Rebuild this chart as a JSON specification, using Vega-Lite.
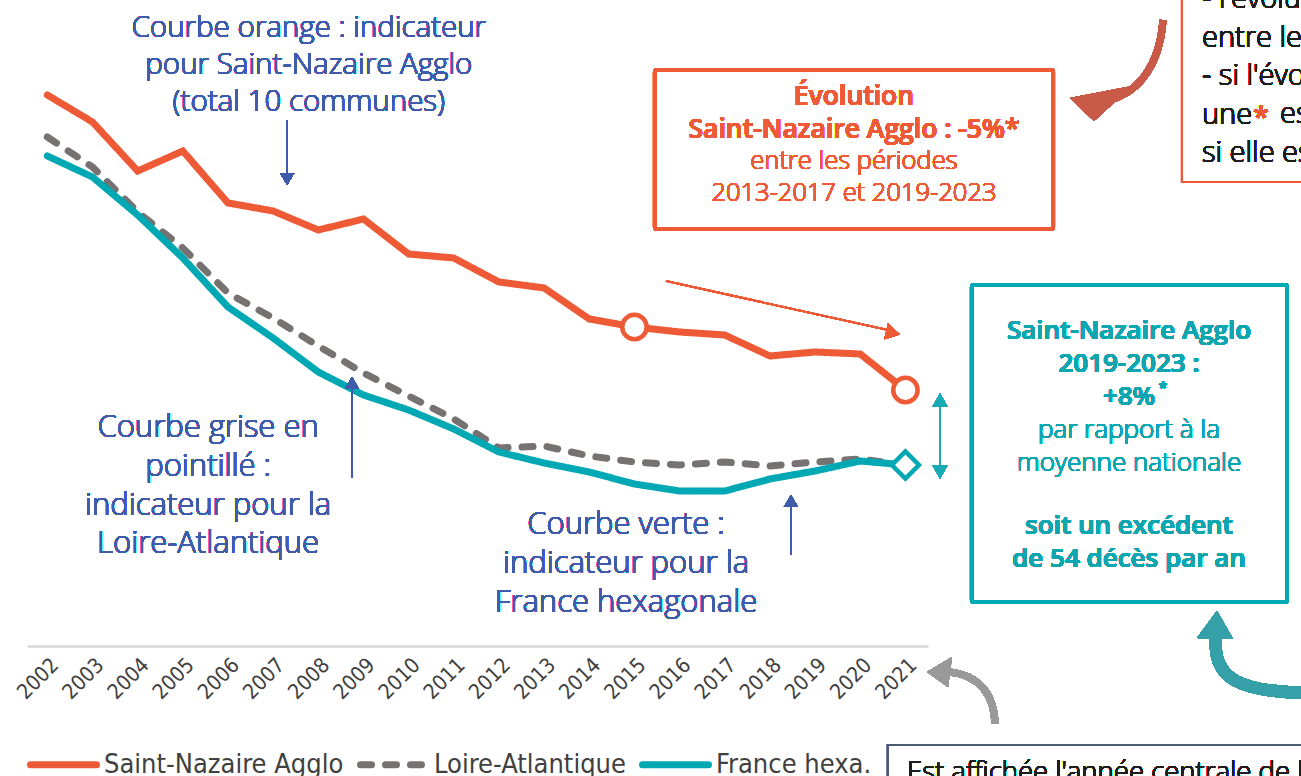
{
  "$schema": "https://vega.github.io/schema/vega-lite/v6.json",
  "width": 901,
  "height": 646,
  "autosize": {"type": "none"},
  "padding": {"left": 27, "top": 0, "right": 373, "bottom": 130},
  "background": "white",
  "config": {"view": {"stroke": null}, "axisY": {"disable": true}},
  "data": {"values": [
    {"year": 2002, "series": "Saint-Nazaire Agglo", "value": 551},
    {"year": 2003, "series": "Saint-Nazaire Agglo", "value": 524},
    {"year": 2004, "series": "Saint-Nazaire Agglo", "value": 475},
    {"year": 2005, "series": "Saint-Nazaire Agglo", "value": 495},
    {"year": 2006, "series": "Saint-Nazaire Agglo", "value": 443},
    {"year": 2007, "series": "Saint-Nazaire Agglo", "value": 435},
    {"year": 2008, "series": "Saint-Nazaire Agglo", "value": 416},
    {"year": 2009, "series": "Saint-Nazaire Agglo", "value": 427},
    {"year": 2010, "series": "Saint-Nazaire Agglo", "value": 392},
    {"year": 2011, "series": "Saint-Nazaire Agglo", "value": 388},
    {"year": 2012, "series": "Saint-Nazaire Agglo", "value": 364},
    {"year": 2013, "series": "Saint-Nazaire Agglo", "value": 358},
    {"year": 2014, "series": "Saint-Nazaire Agglo", "value": 327},
    {"year": 2015, "series": "Saint-Nazaire Agglo", "value": 319},
    {"year": 2016, "series": "Saint-Nazaire Agglo", "value": 314},
    {"year": 2017, "series": "Saint-Nazaire Agglo", "value": 311},
    {"year": 2018, "series": "Saint-Nazaire Agglo", "value": 290},
    {"year": 2019, "series": "Saint-Nazaire Agglo", "value": 294},
    {"year": 2020, "series": "Saint-Nazaire Agglo", "value": 292},
    {"year": 2021, "series": "Saint-Nazaire Agglo", "value": 256},
    {"year": 2002, "series": "Loire-Atlantique", "value": 509},
    {"year": 2003, "series": "Loire-Atlantique", "value": 479},
    {"year": 2004, "series": "Loire-Atlantique", "value": 434},
    {"year": 2005, "series": "Loire-Atlantique", "value": 398},
    {"year": 2006, "series": "Loire-Atlantique", "value": 353},
    {"year": 2007, "series": "Loire-Atlantique", "value": 328},
    {"year": 2008, "series": "Loire-Atlantique", "value": 300},
    {"year": 2009, "series": "Loire-Atlantique", "value": 273},
    {"year": 2010, "series": "Loire-Atlantique", "value": 250},
    {"year": 2011, "series": "Loire-Atlantique", "value": 227},
    {"year": 2012, "series": "Loire-Atlantique", "value": 198},
    {"year": 2013, "series": "Loire-Atlantique", "value": 200},
    {"year": 2014, "series": "Loire-Atlantique", "value": 190},
    {"year": 2015, "series": "Loire-Atlantique", "value": 184},
    {"year": 2016, "series": "Loire-Atlantique", "value": 181},
    {"year": 2017, "series": "Loire-Atlantique", "value": 184},
    {"year": 2018, "series": "Loire-Atlantique", "value": 180},
    {"year": 2019, "series": "Loire-Atlantique", "value": 184},
    {"year": 2020, "series": "Loire-Atlantique", "value": 187},
    {"year": 2021, "series": "Loire-Atlantique", "value": 181},
    {"year": 2002, "series": "France hexa.", "value": 490},
    {"year": 2003, "series": "France hexa.", "value": 469},
    {"year": 2004, "series": "France hexa.", "value": 431},
    {"year": 2005, "series": "France hexa.", "value": 388},
    {"year": 2006, "series": "France hexa.", "value": 339},
    {"year": 2007, "series": "France hexa.", "value": 308},
    {"year": 2008, "series": "France hexa.", "value": 274},
    {"year": 2009, "series": "France hexa.", "value": 251},
    {"year": 2010, "series": "France hexa.", "value": 236},
    {"year": 2011, "series": "France hexa.", "value": 217},
    {"year": 2012, "series": "France hexa.", "value": 194},
    {"year": 2013, "series": "France hexa.", "value": 183},
    {"year": 2014, "series": "France hexa.", "value": 174},
    {"year": 2015, "series": "France hexa.", "value": 162},
    {"year": 2016, "series": "France hexa.", "value": 155},
    {"year": 2017, "series": "France hexa.", "value": 155},
    {"year": 2018, "series": "France hexa.", "value": 167},
    {"year": 2019, "series": "France hexa.", "value": 175},
    {"year": 2020, "series": "France hexa.", "value": 185},
    {"year": 2021, "series": "France hexa.", "value": 181}
  ]},
  "layer": [
    {
      "mark": {"type": "line", "strokeWidth": 7, "strokeCap": "round", "strokeJoin": "miter"},
      "encoding": {
        "x": {"field": "year", "type": "quantitative",
          "scale": {"domain": [2001.55, 2021.5], "nice": false, "zero": false},
          "axis": {"title": null, "values": [2002,2003,2004,2005,2006,2007,2008,2009,2010,2011,2012,2013,2014,2015,2016,2017,2018,2019,2020,2021],
            "format": "d", "labelAngle": -45, "labelFont": "Liberation Sans Narrow, DejaVu Sans Condensed, sans-serif",
            "labelFontSize": 21, "labelColor": "#404040", "labelPadding": 8, "ticks": false, "grid": false,
            "domainColor": "#d9d9d9", "domainWidth": 2.5, "labelOverlap": false, "labelBound": false, "labelFlush": false}},
        "y": {"field": "value", "type": "quantitative",
          "scale": {"domain": [0, 646], "nice": false, "zero": false}, "axis": null},
        "color": {"field": "series", "type": "nominal",
          "scale": {"domain": ["Saint-Nazaire Agglo", "Loire-Atlantique", "France hexa."], "range": ["#EE5A36", "#777272", "#00A8B4"]},
          "legend": {"orient": "none", "legendX": 0, "legendY": 728, "direction": "horizontal", "title": null,
            "symbolType": "stroke", "symbolSize": 4356, "symbolStrokeWidth": 7,
            "labelFont": "Liberation Sans Narrow, DejaVu Sans Condensed, sans-serif", "labelFontSize": 27,
            "labelColor": "#404040", "labelOffset": 4, "columnPadding": 2, "labelLimit": 400,
            "encode": {"symbols": {"update": {"strokeCap": {"value": "round"}}}}}},
        "strokeDash": {"field": "series", "type": "nominal",
          "scale": {"domain": ["Saint-Nazaire Agglo", "Loire-Atlantique", "France hexa."], "range": [[1, 0], [11, 14], [1, 0]]}}
      }
    },
    {
      "transform": [{"filter": "datum.series === 'Saint-Nazaire Agglo' && (datum.year === 2015 || datum.year === 2021)"}],
      "mark": {"type": "point", "shape": "circle", "size": 594, "filled": true, "fill": "#ffffff", "stroke": "#EE5A36", "strokeWidth": 4.5, "opacity": 1},
      "encoding": {"x": {"field": "year", "type": "quantitative"}, "y": {"field": "value", "type": "quantitative"}}
    },
    {
      "transform": [{"filter": "datum.series === 'France hexa.' && datum.year === 2021"}],
      "mark": {"type": "point", "shape": "diamond", "size": 730, "filled": true, "fill": "#ffffff", "stroke": "#00A8B4", "strokeWidth": 4.5, "opacity": 1},
      "encoding": {"x": {"field": "year", "type": "quantitative"}, "y": {"field": "value", "type": "quantitative"}}
    },
    {
      "mark": {"type": "text", "text": ["Courbe orange : indicateur", "pour Saint-Nazaire Agglo", "(total 10 communes)"], "font": "Open Sans", "fontWeight": 300, "fontSize": 29.5, "lineHeight": 37, "fill": "#3F5BA9", "strokeWidth": 0, "align": "center", "baseline": "middle"},
      "encoding": {"x": {"datum": 2007.79}, "y": {"datum": 618}}
    },
    {
      "mark": {"type": "rule", "color": "#3F5BA9", "strokeWidth": 1.5},
      "encoding": {"x": {"datum": 2007.31}, "y": {"datum": 526}, "y2": {"datum": 472}}
    },
    {
      "mark": {"type": "point", "shape": "triangle-down", "filled": true, "color": "#3F5BA9", "size": 200, "opacity": 1},
      "encoding": {"x": {"datum": 2007.31}, "y": {"datum": 467}}
    },
    {
      "mark": {"type": "text", "text": ["Courbe grise en", "pointillé :", "indicateur pour la", "Loire-Atlantique"], "font": "Open Sans", "fontWeight": 300, "fontSize": 31, "lineHeight": 38.8, "fill": "#3F5BA9", "strokeWidth": 0, "align": "center", "baseline": "middle"},
      "encoding": {"x": {"datum": 2005.56}, "y": {"datum": 218}}
    },
    {
      "mark": {"type": "rule", "color": "#3F5BA9", "strokeWidth": 1.5},
      "encoding": {"x": {"datum": 2008.746}, "y": {"datum": 168}, "y2": {"datum": 258}}
    },
    {
      "mark": {"type": "point", "shape": "triangle-up", "filled": true, "color": "#3F5BA9", "size": 200, "opacity": 1},
      "encoding": {"x": {"datum": 2008.746}, "y": {"datum": 263}}
    },
    {
      "mark": {"type": "text", "text": ["Courbe verte :", "indicateur pour la", "France hexagonale"], "font": "Open Sans", "fontWeight": 300, "fontSize": 31, "lineHeight": 38.8, "fill": "#3F5BA9", "strokeWidth": 0, "align": "center", "baseline": "middle"},
      "encoding": {"x": {"datum": 2014.813}, "y": {"datum": 121}}
    },
    {
      "mark": {"type": "rule", "color": "#3F5BA9", "strokeWidth": 1.5},
      "encoding": {"x": {"datum": 2018.466}, "y": {"datum": 91}, "y2": {"datum": 140}}
    },
    {
      "mark": {"type": "point", "shape": "triangle-up", "filled": true, "color": "#3F5BA9", "size": 200, "opacity": 1},
      "encoding": {"x": {"datum": 2018.466}, "y": {"datum": 145}}
    },
    {
      "mark": {"type": "rect", "fill": "#ffffff", "stroke": "#EE5A36", "strokeWidth": 4, "cornerRadius": 2},
      "encoding": {"x": {"datum": 2015.455}, "x2": {"datum": 2024.268}, "y": {"datum": 576}, "y2": {"datum": 417}}
    },
    {
      "mark": {"type": "text", "text": ["Évolution", "Saint-Nazaire Agglo : -5%*"], "font": "Open Sans", "fontWeight": 600, "fontSize": 26.5, "lineHeight": 33.2, "fill": "#EE5A36", "strokeWidth": 0, "align": "center", "baseline": "middle"},
      "encoding": {"x": {"datum": 2019.861}, "y": {"datum": 549}}
    },
    {
      "mark": {"type": "text", "text": ["entre les périodes", "2013-2017 et 2019-2023"], "font": "Open Sans", "fontWeight": 300, "fontSize": 25.5, "lineHeight": 32, "fill": "#EE5A36", "strokeWidth": 0, "align": "center", "baseline": "middle"},
      "encoding": {"x": {"datum": 2019.861}, "y": {"datum": 485}}
    },
    {
      "mark": {"type": "rule", "color": "#EE5A36", "strokeWidth": 1.5},
      "encoding": {"x": {"datum": 2015.699}, "y": {"datum": 365}, "x2": {"datum": 2020.614}, "y2": {"datum": 316}}
    },
    {
      "mark": {"type": "point", "shape": "triangle-right", "angle": 13, "filled": true, "color": "#EE5A36", "size": 260, "opacity": 1},
      "encoding": {"x": {"datum": 2020.725}, "y": {"datum": 313}}
    },
    {
      "mark": {"type": "rule", "color": "#19AAB5", "strokeWidth": 1.5},
      "encoding": {"x": {"datum": 2021.766}, "y": {"datum": 244}, "y2": {"datum": 176}}
    },
    {
      "mark": {"type": "point", "shape": "triangle-up", "filled": true, "color": "#19AAB5", "size": 220, "opacity": 1},
      "encoding": {"x": {"datum": 2021.766}, "y": {"datum": 246}}
    },
    {
      "mark": {"type": "point", "shape": "triangle-down", "filled": true, "color": "#19AAB5", "size": 220, "opacity": 1},
      "encoding": {"x": {"datum": 2021.766}, "y": {"datum": 174}}
    },
    {
      "mark": {"type": "rect", "fill": "#ffffff", "stroke": "#03A9B3", "strokeWidth": 4, "cornerRadius": 2},
      "encoding": {"x": {"datum": 2022.474}, "x2": {"datum": 2029.449}, "y": {"datum": 361}, "y2": {"datum": 44}}
    },
    {
      "mark": {"type": "text", "text": ["Saint-Nazaire Agglo", "2019-2023 :", "+8%"], "font": "Open Sans", "fontWeight": 600, "fontSize": 26, "lineHeight": 33, "fill": "#0FA6B0", "strokeWidth": 0, "align": "center", "baseline": "middle"},
      "encoding": {"x": {"datum": 2025.95}, "y": {"datum": 315}}
    },
    {
      "mark": {"type": "text", "text": "*", "font": "Open Sans", "fontWeight": 600, "fontSize": 16, "fill": "#0FA6B0", "strokeWidth": 0, "align": "center", "baseline": "middle"},
      "encoding": {"x": {"datum": 2026.7}, "y": {"datum": 258}}
    },
    {
      "mark": {"type": "text", "text": ["par rapport à la", "moyenne nationale"], "font": "Open Sans", "fontWeight": 300, "fontSize": 26, "lineHeight": 32.5, "fill": "#0FA6B0", "strokeWidth": 0, "align": "center", "baseline": "middle"},
      "encoding": {"x": {"datum": 2025.95}, "y": {"datum": 216}}
    },
    {
      "mark": {"type": "text", "text": ["soit un excédent", "de 54 décès par an"], "font": "Open Sans", "fontWeight": 600, "fontSize": 26, "lineHeight": 32.5, "fill": "#0FA6B0", "strokeWidth": 0, "align": "center", "baseline": "middle"},
      "encoding": {"x": {"datum": 2025.95}, "y": {"datum": 120}}
    },
    {
      "mark": {"type": "rect", "fill": "#ffffff", "stroke": "#EE5A36", "strokeWidth": 2},
      "encoding": {"x": {"datum": 2027.124}, "x2": {"datum": 2030.62}, "y": {"datum": 660}, "y2": {"datum": 464}}
    },
    {
      "mark": {"type": "text", "text": ["- l'évolution de l'indicateur", "entre les deux périodes", "- si l'évolution est significative,", "une", "si elle est significative"], "font": "Open Sans", "fontWeight": 300, "fontSize": 29, "lineHeight": 38.5, "fill": "#1D1D1B", "strokeWidth": 0, "align": "left", "baseline": "middle"},
      "encoding": {"x": {"datum": 2027.567}, "y": {"datum": 647}}
    },
    {
      "mark": {"type": "text", "text": "*", "font": "Open Sans", "fontWeight": 600, "fontSize": 29, "fill": "#EE5A36", "strokeWidth": 0, "align": "center", "baseline": "middle"},
      "encoding": {"x": {"datum": 2028.873}, "y": {"datum": 528}}
    },
    {
      "mark": {"type": "text", "text": "est ajoutée", "font": "Open Sans", "fontWeight": 300, "fontSize": 29, "fill": "#1D1D1B", "strokeWidth": 0, "align": "left", "baseline": "middle"},
      "encoding": {"x": {"datum": 2029.294}, "y": {"datum": 532}}
    },
    {
      "mark": {"type": "rect", "fill": "#ffffff", "stroke": "#4B5B70", "strokeWidth": 2},
      "encoding": {"x": {"datum": 2020.614}, "x2": {"datum": 2030.62}, "y": {"datum": -99}, "y2": {"datum": -160}}
    },
    {
      "mark": {"type": "text", "text": "Est affichée l'année centrale de la période", "font": "Open Sans", "fontWeight": 300, "fontSize": 27.5, "fill": "#1D1D1B", "strokeWidth": 0, "align": "left", "baseline": "alphabetic"},
      "encoding": {"x": {"datum": 2021.035}, "y": {"datum": -135}}
    },
    {
      "mark": {"type": "point", "shape": "M0.836,-0.909 C0.782,-0.145 0.418,0.509 -0.345,0.582", "size": 12100, "filled": false, "stroke": "#C95A48", "strokeWidth": 7, "opacity": 1},
      "encoding": {"x": {"datum": 2025.685}, "y": {"datum": 576}}
    },
    {
      "mark": {"type": "point", "shape": "M-0.855,0.509 L0.273,0.291 L-0.418,0.927 Z", "size": 12100, "filled": true, "fill": "#C95A48", "strokeWidth": 0, "opacity": 1},
      "encoding": {"x": {"datum": 2025.685}, "y": {"datum": 576}}
    },
    {
      "mark": {"type": "point", "shape": "M0.825,0.85 C0.8,0 0.325,-0.375 -0.3,-0.45", "size": 6400, "filled": false, "stroke": "#999999", "strokeWidth": 7, "opacity": 1},
      "encoding": {"x": {"datum": 2022.253}, "y": {"datum": -44}}
    },
    {
      "mark": {"type": "point", "shape": "M-0.875,-0.45 L-0.25,-0.825 L-0.35,-0.075 Z", "size": 6400, "filled": true, "fill": "#999999", "strokeWidth": 0, "opacity": 1},
      "encoding": {"x": {"datum": 2022.253}, "y": {"datum": -44}}
    },
    {
      "mark": {"type": "point", "shape": "M-0.78,-0.48 C-0.86,0.4 -0.3,0.64 1.1,0.66", "size": 10000, "filled": false, "stroke": "#35A0A8", "strokeWidth": 12, "opacity": 1},
      "encoding": {"x": {"datum": 2028.74}, "y": {"datum": -14}}
    },
    {
      "mark": {"type": "point", "shape": "M-0.76,-0.98 L-1.16,-0.44 L-0.44,-0.42 Z", "size": 10000, "filled": true, "fill": "#35A0A8", "strokeWidth": 0, "opacity": 1},
      "encoding": {"x": {"datum": 2028.74}, "y": {"datum": -14}}
    }
  ]
}
